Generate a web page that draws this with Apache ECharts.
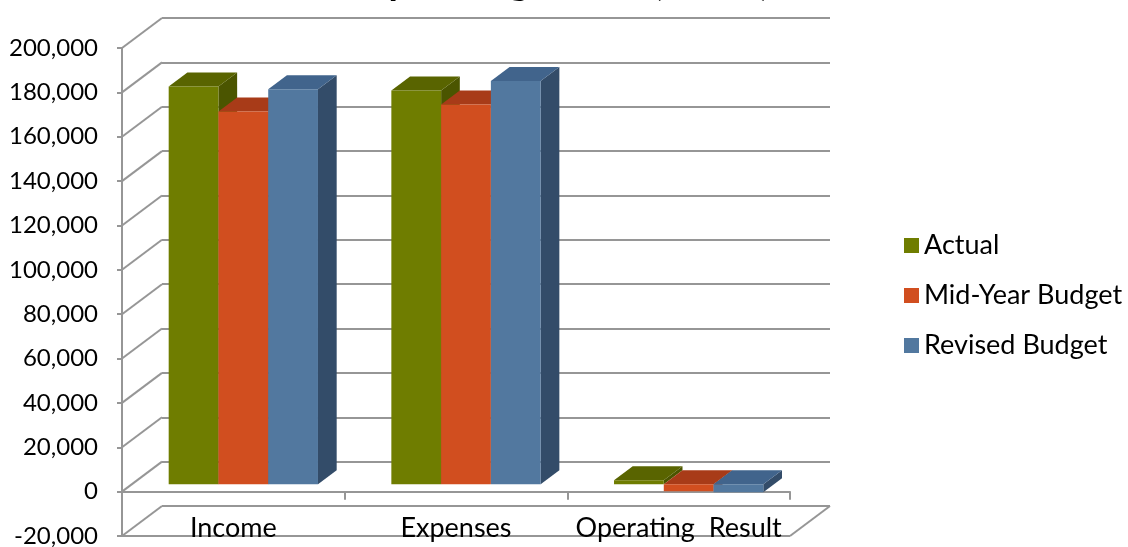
<!DOCTYPE html>
<html>
<head>
<meta charset="utf-8">
<title>Operating Result</title>
<script src="https://cdn.jsdelivr.net/npm/echarts@6.0.0/dist/echarts.min.js"></script>
<style>
  html, body { margin: 0; padding: 0; background: #ffffff; }
  #chart { width: 1128px; height: 547px; }
</style>
</head>
<body>
<div id="chart"></div>
<script>
// Budget comparison ($'000)
const categories = ['Income', 'Expenses', 'Operating  Result'];
const seriesNames = ['Actual', 'Mid-Year Budget', 'Revised Budget'];
const actual = [179300, 177500, 1800];
const midYearBudget = [168000, 171200, -3200];
const revisedBudget = [178000, 181700, -3700];
const yTicks = [-20000, 0, 20000, 40000, 60000, 80000, 100000, 120000, 140000, 160000, 180000, 200000];

// Face colours per series: front, top, side
const palette = [
  { front: '#6f7d00', top: '#596400', side: '#4b5500' },
  { front: '#d14e1f', top: '#a83b18', side: '#8c3012' },
  { front: '#52789f', top: '#41648c', side: '#334c69' }
];

// Oblique depth of the plot box (back wall offset from the front plane)
const DEPTH_X = 40, DEPTH_Y = -30;
// Bars sit partway into the box and have their own depth
const BAR_FRONT_X = 10, BAR_FRONT_Y = -7.5;
const BAR_DEPTH_X = 18.7, BAR_DEPTH_Y = -14;
const BAR_SHARE = 0.2235;
// Category names sit on the floor, below the zero line
const LABEL_DROP = 37;

const GRID_LINE = '#969696';
const FONT = 'Lato, "Open Sans", sans-serif';

function barRenderer(k) {
  const c = palette[k];
  return function (params, api) {
    const ci = api.value(0);
    const v = api.value(1);
    const base = api.coord([ci, 0]);
    const tip = api.coord([ci, v]);
    const bw = api.size([1, 0])[0] * BAR_SHARE;
    const x = base[0] - 1.5 * bw + k * bw + BAR_FRONT_X;
    const y0 = base[1] + BAR_FRONT_Y;
    const y1 = tip[1] + BAR_FRONT_Y;
    const yt = Math.min(y0, y1), yb = Math.max(y0, y1);
    return {
      type: 'group',
      children: [
        { type: 'polygon', shape: { points: [[x + bw, yt], [x + bw + BAR_DEPTH_X, yt + BAR_DEPTH_Y], [x + bw + BAR_DEPTH_X, yb + BAR_DEPTH_Y], [x + bw, yb]] }, style: { fill: c.side } },
        { type: 'polygon', shape: { points: [[x, yt], [x + BAR_DEPTH_X, yt + BAR_DEPTH_Y], [x + bw + BAR_DEPTH_X, yt + BAR_DEPTH_Y], [x + bw, yt]] }, style: { fill: c.top } },
        { type: 'rect', shape: { x: x, y: yt, width: bw, height: yb - yt }, style: { fill: c.front } }
      ]
    };
  };
}

// Side-wall and floor edges joining the front axis to the back wall
function frameRenderer(params, api) {
  const cs = params.coordSys;
  const v = api.value(1);
  const y = api.coord([0, v])[1];
  const lineStyle = { stroke: GRID_LINE, lineWidth: 2 };
  const children = [
    { type: 'line', shape: { x1: cs.x, y1: y, x2: cs.x + DEPTH_X, y2: y + DEPTH_Y }, style: lineStyle }
  ];
  if (params.dataIndex === 0) {
    children.push({ type: 'line', shape: { x1: cs.x, y1: y, x2: cs.x + cs.width, y2: y }, style: lineStyle });
    children.push({ type: 'line', shape: { x1: cs.x + cs.width, y1: y, x2: cs.x + cs.width + DEPTH_X, y2: y + DEPTH_Y }, style: lineStyle });
  }
  return { type: 'group', children: children };
}

// Category names placed under each category's slot on the floor
function categoryLabelRenderer(params, api) {
  const ci = api.value(0);
  const p = api.coord([ci, 0]);
  return {
    type: 'text',
    x: p[0],
    y: p[1] + LABEL_DROP,
    style: {
      text: categories[ci],
      fill: '#000000',
      font: '27px ' + FONT,
      align: 'center',
      verticalAlign: 'middle'
    }
  };
}

const yMin = yTicks[0], yMax = yTicks[yTicks.length - 1], yStep = yTicks[1] - yTicks[0];
const valueSeries = [actual, midYearBudget, revisedBudget];

const chart = echarts.init(document.getElementById('chart'), null, { renderer: 'canvas' });
chart.setOption({
  animation: false,
  backgroundColor: '#ffffff',
  color: palette.map(p => p.front),
  title: {
    text: "Operating Result ($'000)",
    left: 'center',
    top: -41,
    textStyle: { fontFamily: FONT, fontSize: 38, fontWeight: 'bold', color: '#000000' }
  },
  legend: {
    orient: 'vertical',
    left: 904,
    top: 232,
    padding: 0,
    itemWidth: 15,
    itemHeight: 15,
    itemGap: 23,
    icon: 'rect',
    data: seriesNames,
    textStyle: { fontFamily: FONT, fontSize: 27, lineHeight: 25, color: '#000000' }
  },
  grid: [
    { left: 122, right: 338, top: 48, bottom: 11, containLabel: false, outerBoundsMode: 'none' },
    { left: 162, right: 298, top: 18, bottom: 41, containLabel: false, outerBoundsMode: 'none' }
  ],
  xAxis: [
    {
      gridIndex: 0,
      type: 'category',
      data: categories,
      axisLine: { onZero: true, lineStyle: { color: GRID_LINE, width: 2 } },
      axisTick: { show: true, length: 8, lineStyle: { color: GRID_LINE, width: 2 } },
      axisLabel: { show: false },
      splitLine: { show: false }
    },
    {
      gridIndex: 1,
      type: 'category',
      data: categories,
      show: false
    }
  ],
  yAxis: [
    {
      gridIndex: 0,
      type: 'value',
      min: yMin, max: yMax, interval: yStep,
      axisLine: { show: true, lineStyle: { color: GRID_LINE, width: 2 } },
      axisTick: { show: true, length: 5, lineStyle: { color: GRID_LINE, width: 2 } },
      axisLabel: {
        margin: 24, fontFamily: FONT, fontSize: 24, color: '#000000',
        formatter: v => v.toLocaleString('en-US')
      },
      splitLine: { show: false }
    },
    {
      gridIndex: 1,
      type: 'value',
      min: yMin, max: yMax, interval: yStep,
      axisLine: { show: false },
      axisTick: { show: false },
      axisLabel: { show: false },
      splitLine: { show: true, lineStyle: { color: GRID_LINE, width: 2 } }
    }
  ],
  series: [
    {
      type: 'custom',
      name: 'frame',
      xAxisIndex: 0, yAxisIndex: 0,
      renderItem: frameRenderer,
      data: yTicks.map(v => [0, v]),
      clip: false,
      silent: true,
      z: 1
    },
    {
      type: 'custom',
      name: 'categoryLabels',
      xAxisIndex: 0, yAxisIndex: 0,
      renderItem: categoryLabelRenderer,
      data: categories.map((c, i) => [i, 0]),
      clip: false,
      silent: true,
      z: 2
    }
  ].concat(valueSeries.map((vals, k) => ({
    type: 'custom',
    name: seriesNames[k],
    xAxisIndex: 0, yAxisIndex: 0,
    itemStyle: { color: palette[k].front },
    renderItem: barRenderer(k),
    data: vals.map((v, i) => [i, v]),
    clip: false,
    z: 3 + k
  })))
});
</script>
</body>
</html>
